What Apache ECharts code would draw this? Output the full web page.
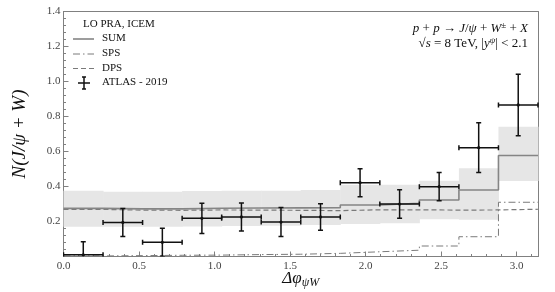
<!DOCTYPE html>
<html><head><meta charset="utf-8">
<script src="https://cdn.jsdelivr.net/npm/echarts@6/dist/echarts.min.js"></script>
<style>html,body{margin:0;padding:0;background:#fff}#c{width:555px;height:292px}</style>
</head><body><div id="c"></div>
<script>
// Bin edges of Δφ (12 bins over [0, π])
const binEdges = [0, 0.2618, 0.5236, 0.7854, 1.0472, 1.3090, 1.5708, 1.8326, 2.0944, 2.3562, 2.6180, 2.8798, 3.1416];
// ATLAS 2019 data
const atlasValues = [0.010, 0.195, 0.081, 0.218, 0.226, 0.197, 0.226, 0.422, 0.300, 0.399, 0.622, 0.866];
const atlasErrors = [0.075, 0.080, 0.080, 0.087, 0.080, 0.083, 0.076, 0.080, 0.082, 0.081, 0.142, 0.176];
// LO PRA, ICEM predictions
const sumValues = [0.275, 0.272, 0.272, 0.276, 0.277, 0.278, 0.279, 0.294, 0.304, 0.323, 0.380, 0.577];
const spsValues = [0.003, 0.005, 0.007, 0.008, 0.011, 0.013, 0.018, 0.027, 0.036, 0.060, 0.113, 0.310];
const dpsValues = [0.269, 0.265, 0.264, 0.266, 0.265, 0.264, 0.262, 0.267, 0.267, 0.265, 0.266, 0.270];
const bandHigh = [0.376, 0.370, 0.370, 0.375, 0.376, 0.376, 0.380, 0.410, 0.410, 0.433, 0.504, 0.742];
const bandLow  = [0.170, 0.170, 0.170, 0.172, 0.174, 0.176, 0.180, 0.186, 0.190, 0.213, 0.210, 0.431];
const xTickLabels = ['0.0', '0.5', '1.0', '1.5', '2.0', '2.5', '3.0'];
const yTickLabels = ['', '0.2', '0.4', '0.6', '0.8', '1.0', '1.2', '1.4'];

const FONT = 'Liberation Serif';
const n = sumValues.length;
function stepData(vals) { return binEdges.map((e, i) => [e, vals[Math.min(i, n - 1)]]); }

const chart = echarts.init(document.getElementById('c'), null, {renderer: 'canvas'});
const axisGray = '#808080';
const option = {
  animation: false,
  grid: {left: 63.5, right: 17, top: 11.5, bottom: 35.5, containLabel: false, outerBoundsMode: 'none'},
  xAxis: [{
    type: 'value', min: 0, max: binEdges[n], interval: 0.5,
    axisLine: {show: true, lineStyle: {color: axisGray, width: 1}},
    axisTick: {show: true, inside: true, length: 5, lineStyle: {color: axisGray}},
    minorTick: {show: true, splitNumber: 5, length: 2.5, lineStyle: {color: axisGray}},
    splitLine: {show: false},
    axisLabel: {showMaxLabel: false, color: '#444', fontFamily: FONT, fontSize: 11, margin: 4,
      formatter: v => xTickLabels[Math.round(v / 0.5)] || ''},
    name: '{a|Δφ}{s|ψW}', nameLocation: 'middle', nameGap: 12, nameMoveOverlap: false,
    nameTextStyle: {rich: {a: {fontFamily: FONT, fontSize: 17, fontStyle: 'italic', color: '#111'},
      s: {fontFamily: FONT, fontSize: 12, fontStyle: 'italic', color: '#111', verticalAlign: 'bottom', padding: [8, 0, 0, 0]}}}
  }, {
    type: 'value', position: 'top', min: 0, max: binEdges[n],
    axisLine: {show: true, onZero: false, lineStyle: {color: axisGray}},
    axisTick: {show: false}, axisLabel: {show: false}, splitLine: {show: false}
  }],
  yAxis: [{
    type: 'value', min: 0, max: 1.4, interval: 0.2,
    axisLine: {show: true, lineStyle: {color: axisGray}},
    axisTick: {show: true, inside: true, length: 5, lineStyle: {color: axisGray}},
    minorTick: {show: true, splitNumber: 5, length: 2.5, lineStyle: {color: axisGray}},
    splitLine: {show: false},
    axisLabel: {color: '#444', fontFamily: FONT, fontSize: 11, margin: 3,
      formatter: v => yTickLabels[Math.round(v / 0.2)] || ''},
    name: 'N(J/ψ + W)', nameLocation: 'middle', nameGap: 34, nameRotate: 90, nameMoveOverlap: false,
    nameTextStyle: {fontFamily: FONT, fontSize: 19, fontStyle: 'italic', color: '#111'}
  }, {
    type: 'value', position: 'right', min: 0, max: 1.4,
    axisLine: {show: true, onZero: false, lineStyle: {color: axisGray}},
    axisTick: {show: false}, axisLabel: {show: false}, splitLine: {show: false}
  }],
  series: [
    {
      type: 'custom', name: 'band', z: 1, clip: true,
      data: sumValues.map((_, i) => [binEdges[i], binEdges[i + 1], bandLow[i], bandHigh[i]]),
      encode: {x: [0, 1], y: [2, 3]},
      renderItem: (params, api) => {
        const p1 = api.coord([api.value(0), api.value(3)]);
        const p2 = api.coord([api.value(1), api.value(2)]);
        return {type: 'rect', shape: {x: p1[0], y: p1[1], width: p2[0] - p1[0] + 0.5, height: p2[1] - p1[1]},
          style: {fill: '#e6e6e6'}};
      }
    },
    {type: 'line', name: 'DPS', z: 3, step: 'end', showSymbol: false, data: stepData(dpsValues),
      lineStyle: {color: '#7a7a7a', width: 1.2, type: [5, 3]}},
    {type: 'line', name: 'SPS', z: 3, step: 'end', showSymbol: false, data: stepData(spsValues),
      lineStyle: {color: '#7a7a7a', width: 1, type: [7, 3, 1.5, 3]}},
    {type: 'line', name: 'SUM', z: 4, step: 'end', showSymbol: false, data: stepData(sumValues),
      lineStyle: {color: '#858585', width: 1.6}},
    {
      type: 'custom', name: 'ATLAS - 2019', z: 10, clip: true,
      data: atlasValues.map((v, i) => [binEdges[i], binEdges[i + 1], (binEdges[i] + binEdges[i + 1]) / 2, v, atlasErrors[i]]),
      encode: {x: [0, 1], y: 3},
      renderItem: (params, api) => {
        const xl = api.value(0), xh = api.value(1), xc = api.value(2), y = api.value(3), e = api.value(4);
        const pl = api.coord([xl, y]), ph = api.coord([xh, y]);
        const pt = api.coord([xc, y + e]);
        const lo = Math.max(y - e, 0);
        const pb = api.coord([xc, lo]);
        const c = 2.5;
        const st = {stroke: '#111', lineWidth: 1.5};
        const els = [
          {type: 'line', shape: {x1: pl[0], y1: pl[1], x2: ph[0], y2: ph[1]}, style: st},
          {type: 'line', shape: {x1: pl[0], y1: pl[1] - c, x2: pl[0], y2: pl[1] + c}, style: st},
          {type: 'line', shape: {x1: ph[0], y1: ph[1] - c, x2: ph[0], y2: ph[1] + c}, style: st},
          {type: 'line', shape: {x1: pt[0], y1: pt[1], x2: pb[0], y2: pb[1]}, style: st},
          {type: 'line', shape: {x1: pt[0] - c, y1: pt[1], x2: pt[0] + c, y2: pt[1]}, style: st},
          {type: 'circle', shape: {cx: pl[0] + (ph[0] - pl[0]) / 2, cy: pl[1], r: 1.6}, style: {fill: '#111'}}
        ];
        if (y - e > 0) els.push({type: 'line', shape: {x1: pb[0] - c, y1: pb[1], x2: pb[0] + c, y2: pb[1]}, style: st});
        return {type: 'group', children: els};
      }
    }
  ],
  graphic: [
    {type: 'text', left: 83, top: 19, style: {text: 'LO PRA, ICEM', font: '11px ' + FONT, fill: '#111'}},
    {type: 'line', shape: {x1: 73, y1: 39, x2: 94, y2: 39}, style: {stroke: '#858585', lineWidth: 1.6}},
    {type: 'text', left: 102, top: 33, style: {text: 'SUM', font: '11px ' + FONT, fill: '#111'}},
    {type: 'line', shape: {x1: 73, y1: 54, x2: 94, y2: 54}, style: {stroke: '#7a7a7a', lineWidth: 1, lineDash: [7, 3, 1.5, 3]}},
    {type: 'text', left: 102, top: 47.5, style: {text: 'SPS', font: '11px ' + FONT, fill: '#111'}},
    {type: 'line', shape: {x1: 73, y1: 68.5, x2: 94, y2: 68.5}, style: {stroke: '#7a7a7a', lineWidth: 1.2, lineDash: [5, 3]}},
    {type: 'text', left: 102, top: 62.5, style: {text: 'DPS', font: '11px ' + FONT, fill: '#111'}},
    {type: 'line', shape: {x1: 78, y1: 83, x2: 90, y2: 83}, style: {stroke: '#111', lineWidth: 1.5}},
    {type: 'line', shape: {x1: 84, y1: 77, x2: 84, y2: 89}, style: {stroke: '#111', lineWidth: 1.5}},
    {type: 'line', shape: {x1: 82, y1: 77, x2: 86, y2: 77}, style: {stroke: '#111', lineWidth: 1.5}},
    {type: 'line', shape: {x1: 82, y1: 89, x2: 86, y2: 89}, style: {stroke: '#111', lineWidth: 1.5}},
    {type: 'text', left: 102, top: 77, style: {text: 'ATLAS - 2019', font: '11px ' + FONT, fill: '#111'}},
    {type: 'text', right: 27, top: 21, style: {
      text: '{i|p} + {i|p} → {i|J}/{i|ψ} + {i|W}{s|±} + {i|X}', font: '13px ' + FONT, fill: '#111', align: 'right',
      rich: {i: {fontStyle: 'italic', fontFamily: FONT, fontSize: 13}, s: {fontFamily: FONT, fontSize: 9, verticalAlign: 'top', padding: [0, 0, 6, 0]}}}},
    {type: 'text', right: 27, top: 36, style: {
      text: '√{o|s} = 8 TeV, |{i|y}{s|ψ}| < 2.1', font: '13px ' + FONT, fill: '#111', align: 'right',
      rich: {o: {fontStyle: 'italic', fontFamily: FONT, fontSize: 13},
        i: {fontStyle: 'italic', fontFamily: FONT, fontSize: 13},
        s: {fontStyle: 'italic', fontFamily: FONT, fontSize: 9, verticalAlign: 'top', padding: [0, 0, 6, 0]}}}}
  ]
};
chart.setOption(option);
</script></body></html>
